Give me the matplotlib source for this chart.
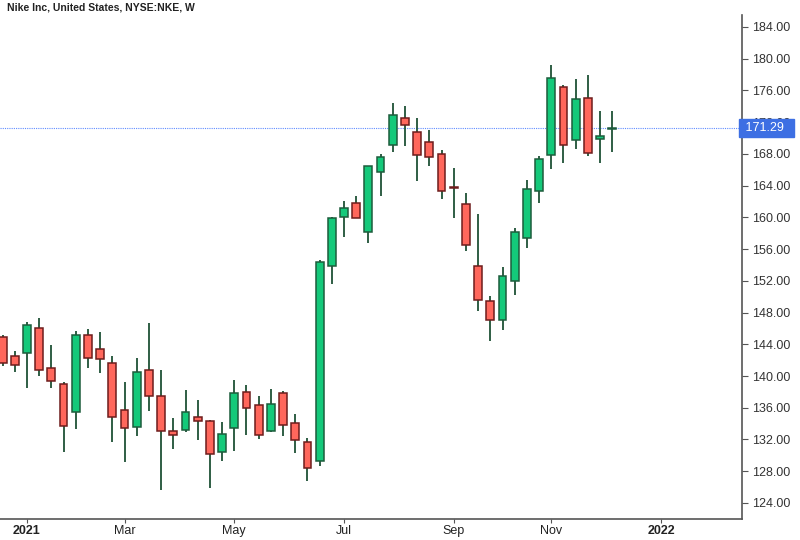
import matplotlib
matplotlib.use("Agg")
import matplotlib.pyplot as plt
import matplotlib.dates as mdates
import matplotlib.transforms as mtransforms
import numpy as np
import datetime as dt

plt.rcParams['font.family'] = ['Liberation Sans', 'DejaVu Sans']

# weekly bars, Monday dates
first_week = dt.date(2020, 12, 21)
n_weeks = 51
weeks = [first_week + dt.timedelta(weeks=i) for i in range(n_weeks)]

opens = [144.87, 142.55, 142.85, 146.00, 141.04, 138.99, 135.42, 145.16, 143.36, 141.59,
         135.67, 133.61, 140.71, 137.51, 133.03, 133.16, 134.79, 134.29, 130.42, 133.41,
         137.94, 136.30, 133.10, 137.82, 134.04, 131.72, 129.25, 153.89, 159.98, 161.75,
         158.17, 165.69, 169.17, 172.58, 170.81, 169.55, 168.04, 163.75, 161.62, 153.81,
         149.48, 147.01, 152.00, 157.37, 163.26, 167.87, 176.43, 169.80, 175.01, 169.93,
         171.07]
highs = [145.20, 143.10, 146.83, 147.26, 143.90, 139.20, 145.62, 145.91, 145.54, 142.48,
         139.20, 142.22, 146.67, 140.71, 134.70, 138.27, 136.97, 134.45, 134.16, 139.45,
         138.90, 137.51, 138.40, 138.14, 135.21, 132.15, 154.57, 159.98, 162.00, 162.75,
         166.44, 167.92, 174.46, 174.04, 172.49, 170.98, 168.50, 166.28, 163.04, 160.40,
         150.03, 153.68, 158.63, 164.72, 167.74, 179.16, 176.64, 177.40, 177.90, 173.41,
         173.41]
lows = [141.30, 140.46, 138.45, 139.96, 138.45, 130.39, 133.32, 141.00, 140.37, 131.64,
        129.20, 132.48, 135.62, 125.68, 130.80, 133.00, 131.93, 125.85, 129.33, 130.51,
        132.56, 132.06, 132.98, 132.40, 130.26, 126.81, 128.70, 151.58, 157.46, 159.89,
        156.71, 162.70, 168.25, 169.00, 164.52, 166.41, 162.37, 159.93, 155.78, 148.14,
        144.44, 145.83, 150.20, 156.08, 161.82, 166.07, 166.82, 168.58, 167.74, 166.82,
        168.25]
closes = [141.60, 141.42, 146.42, 140.79, 139.37, 133.66, 145.16, 142.22, 142.10, 134.79,
          133.41, 140.46, 137.44, 133.03, 132.53, 135.42, 134.29, 130.17, 132.65, 137.82,
          135.93, 132.60, 136.43, 133.79, 131.97, 128.37, 154.31, 159.86, 161.12, 159.89,
          166.44, 167.66, 172.87, 171.69, 167.87, 167.61, 163.26, 163.70, 156.49, 149.60,
          147.01, 152.55, 158.09, 163.55, 167.41, 177.61, 169.17, 174.88, 168.17, 170.31,
          171.29]

last_price = 171.29
y_ticks = np.arange(124, 185, 4)
x_tick_dates = [dt.date(2021, 1, 4), dt.date(2021, 3, 1), dt.date(2021, 5, 3), dt.date(2021, 7, 5),
                dt.date(2021, 9, 6), dt.date(2021, 11, 1), dt.date(2022, 1, 3)]
x_tick_labels = ['2021', 'Mar', 'May', 'Jul', 'Sep', 'Nov', '2022']

up_fill = '#14c97a'
up_edge = '#1d5c3c'
down_fill = '#ff675c'
down_edge = '#6e1c1c'
wick_col = '#1f5236'

fig = plt.figure(figsize=(8, 5.4), dpi=100)
ax = fig.add_axes([0.0, 21 / 540, 742 / 800, 504 / 540])

x = mdates.date2num(weeks)
o = np.array(opens); h = np.array(highs); l = np.array(lows); c = np.array(closes)
up = c >= o

ax.vlines(x, l, h, color=wick_col, lw=1.3, zorder=2)
body_lo = np.minimum(o, c)
body_h = np.maximum(np.abs(c - o), 0.12)
ax.bar(x[up], body_h[up], bottom=body_lo[up], width=4.5, color=up_fill,
       edgecolor=up_edge, linewidth=1.1, zorder=3)
ax.bar(x[~up], body_h[~up], bottom=body_lo[~up], width=4.5, color=down_fill,
       edgecolor=down_edge, linewidth=1.1, zorder=3)

ax.axhline(last_price, color='#5f8cff', lw=0.8, ls=(0, (1, 1)), zorder=1)

ax.set_ylim(121.98, 185.5)
x0 = mdates.date2num(dt.date(2021, 1, 4))
ax.set_xlim(x0 - 15.5, x0 + 410.5)

ax.yaxis.tick_right()
ax.set_yticks(y_ticks)
ax.set_yticklabels(['%.2f' % v for v in y_ticks])
ax.tick_params(axis='y', length=4, width=0.8, colors='#555555', labelsize=9, labelcolor='#333333', pad=3)

ax.set_xticks(mdates.date2num(x_tick_dates))
ax.set_xticklabels(x_tick_labels)
ax.tick_params(axis='x', length=3, width=0.8, colors='#555555', labelsize=9, labelcolor='#222222', pad=1)
for t in ax.get_xticklabels():
    if t.get_text() in ('2021', '2022'):
        t.set_fontweight('bold')

for s in ('left', 'top'):
    ax.spines[s].set_visible(False)
for s in ('right', 'bottom'):
    ax.spines[s].set_color('#555555')
    ax.spines[s].set_linewidth(1.2)

trans = mtransforms.blended_transform_factory(ax.transAxes, ax.transData)
ax.text(1.0, last_price, ' 171.29  ', transform=trans, ha='left', va='center',
        color='white', fontsize=9, clip_on=False, zorder=10,
        bbox=dict(boxstyle='square,pad=0.25', fc='#3d6fe3', ec='#3d6fe3'))

fig.text(7 / 800, 1 - 8 / 540, 'Nike Inc, United States, NYSE:NKE, W', fontsize=7.5,
         fontweight='bold', color='#222222', ha='left', va='center')

fig.savefig('out.png', dpi=100)
